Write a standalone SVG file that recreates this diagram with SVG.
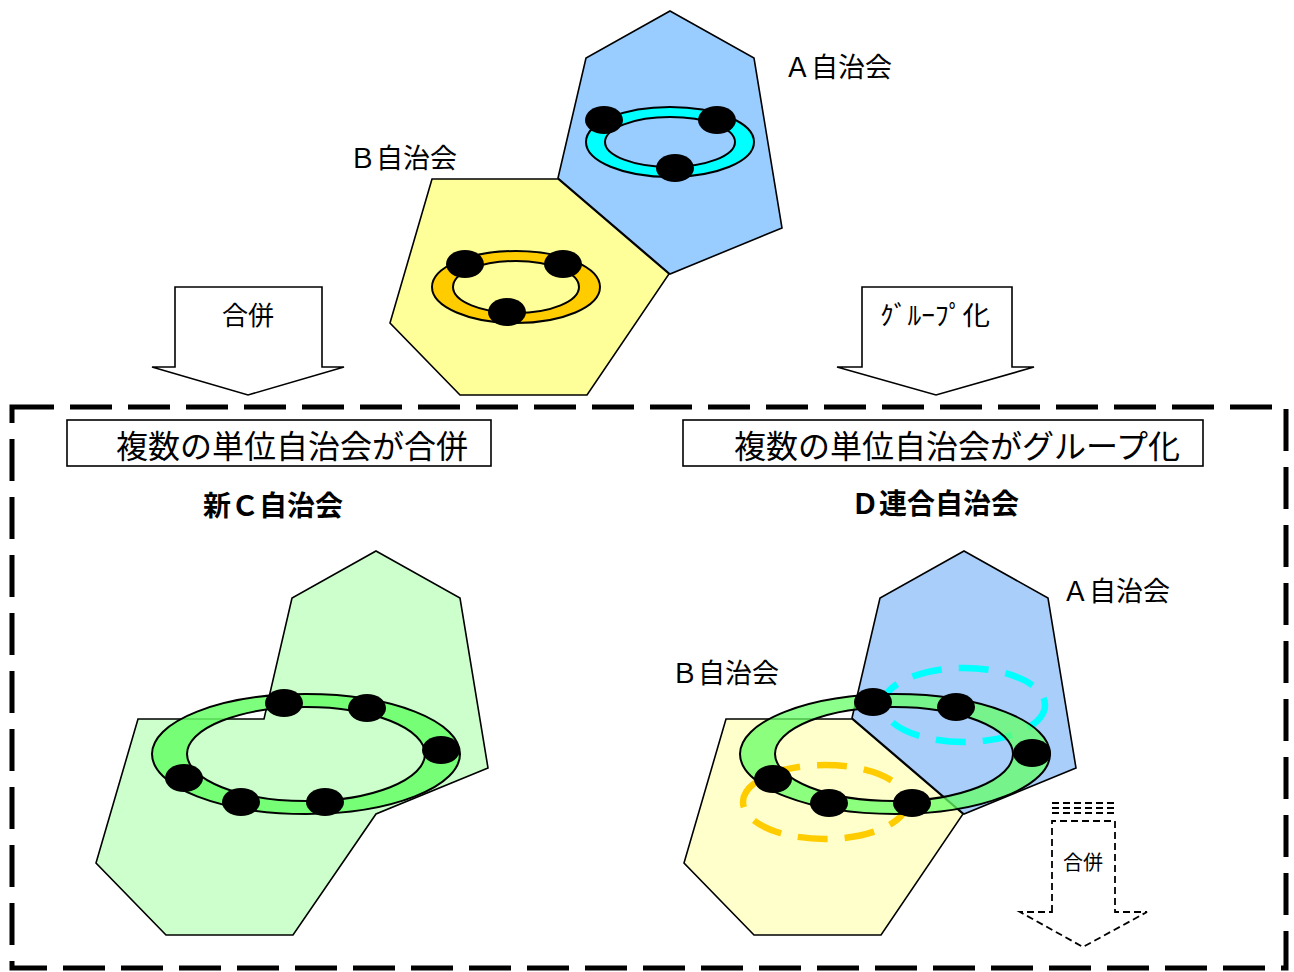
<svg xmlns="http://www.w3.org/2000/svg" width="1294" height="972" viewBox="0 0 1294 972">
<style>
  text { font-family: "Noto Sans CJK JP", "Liberation Sans", sans-serif; fill: #000; }
  .hex { stroke: #000; stroke-width: 1.6; stroke-linejoin: miter; }
  .ring { stroke: #000; stroke-width: 2; fill-rule: evenodd; }
  .dot { fill: #000; }
  .arrow { fill: #fff; stroke: #000; stroke-width: 1.6; }
  .lbl { font-size: 27px; dominant-baseline: central; }
  .dash { fill: none; stroke: #000; stroke-width: 1.8; stroke-dasharray: 7 4; }
</style>
<rect width="1294" height="972" fill="#fff"/>

<g id="top-A">
  <polygon class="hex" fill="#99CCFF" points="670,11 754,58 782,228 670,274 558,178 586,58"/>
  <path class="ring" fill="#00FFFF" d="M586,142 a84,35 0 1,0 168,0 a84,35 0 1,0 -168,0 Z M605,142 a65,25 0 1,0 130,0 a65,25 0 1,0 -130,0 Z"/>
  <ellipse class="dot" cx="604" cy="120" rx="19" ry="14"/>
  <ellipse class="dot" cx="717" cy="120" rx="19" ry="14"/>
  <ellipse class="dot" cx="675" cy="168" rx="19" ry="14"/>
  <text class="lbl" x="784" y="65">Ａ自治会</text>
</g>

<g id="top-B">
  <polygon class="hex" fill="#FFFF99" points="432,179 558,179 669,274 587,395 460,395 390,323"/>
  <path class="ring" fill="#FFCC00" d="M432,287 a84,36 0 1,0 168,0 a84,36 0 1,0 -168,0 Z M453,287 a63,26 0 1,0 126,0 a63,26 0 1,0 -126,0 Z"/>
  <ellipse class="dot" cx="465" cy="264" rx="19" ry="14"/>
  <ellipse class="dot" cx="563" cy="264" rx="19" ry="14"/>
  <ellipse class="dot" cx="507" cy="312" rx="19" ry="14"/>
  <text class="lbl" x="349" y="156">Ｂ自治会</text>
</g>

<g id="arrow-merge">
  <path class="arrow" d="M175,287 L322,287 L322,367 L344,367 L248,395 L152,367 L175,367 Z"/>
  <text x="248" y="313" font-size="26" text-anchor="middle" dominant-baseline="central">合併</text>
</g>

<g id="arrow-group">
  <path class="arrow" d="M862,287 L1012,287 L1012,367 L1034,367 L936,395 L837,367 L862,367 Z"/>
  <text x="880" y="313" font-size="26" dominant-baseline="central" textLength="110" lengthAdjust="spacingAndGlyphs">ｸﾞﾙｰﾌﾟ化</text>
</g>

<g id="frame">
  <rect x="12" y="407" width="1274" height="561" fill="none" stroke="#000" stroke-width="5" stroke-dasharray="42 16"/>
</g>

<g id="title-merge">
  <rect x="67" y="420" width="424" height="46" fill="#fff" stroke="#000" stroke-width="1.6"/>
  <text x="292" y="444" font-size="32" text-anchor="middle" dominant-baseline="central">複数の単位自治会が合併</text>
  <text x="273" y="504" font-size="28" font-weight="bold" text-anchor="middle" dominant-baseline="central">新Ｃ自治会</text>
</g>

<g id="title-group">
  <rect x="683" y="420" width="520" height="46" fill="#fff" stroke="#000" stroke-width="1.6"/>
  <text x="957" y="444" font-size="32" text-anchor="middle" dominant-baseline="central">複数の単位自治会がグループ化</text>
  <text x="935" y="502" font-size="28" font-weight="bold" text-anchor="middle" dominant-baseline="central">Ｄ連合自治会</text>
</g>

<g id="new-C">
  <polygon class="hex" fill="#CCFFCC" points="376,551 460,598 488,768 376,814 293,935 166,935 96,863 138,719 264,719 292,598"/>
  <path class="ring" fill="#66FF66" fill-opacity="0.85" d="M152,754 a154,60 0 1,0 308,0 a154,60 0 1,0 -308,0 Z M187,754 a119,47 0 1,0 238,0 a119,47 0 1,0 -238,0 Z"/>
  <ellipse class="dot" cx="284" cy="703" rx="19" ry="14"/>
  <ellipse class="dot" cx="367" cy="708" rx="19" ry="14"/>
  <ellipse class="dot" cx="441" cy="750" rx="19" ry="14"/>
  <ellipse class="dot" cx="184" cy="778" rx="19" ry="14"/>
  <ellipse class="dot" cx="241" cy="802" rx="19" ry="14"/>
  <ellipse class="dot" cx="325" cy="802" rx="19" ry="14"/>
</g>

<g id="D-B">
  <polygon class="hex" fill="#FFFFCC" points="726,719 852,719 963,814 881,935 754,935 684,863"/>
  <ellipse cx="825" cy="802" rx="82" ry="37" fill="none" stroke="#FFCC00" stroke-width="6.5" stroke-dasharray="30 17"/>
  <text class="lbl" x="671" y="671">Ｂ自治会</text>
</g>

<g id="D-A">
  <polygon class="hex" fill="#A8CEF9" points="964,551 1048,598 1076,768 964,814 852,718 880,598"/>
  <ellipse cx="964" cy="705" rx="81" ry="37" fill="none" stroke="#00FFFF" stroke-width="6.5" stroke-dasharray="30 17"/>
  <text class="lbl" x="1062" y="589">Ａ自治会</text>
</g>

<g id="D-ring">
  <path class="ring" fill="#66FF66" fill-opacity="0.75" d="M740,754 a155,60 0 1,0 310,0 a155,60 0 1,0 -310,0 Z M775,754 a119,47 0 1,0 238,0 a119,47 0 1,0 -238,0 Z"/>
  <ellipse class="dot" cx="873" cy="702" rx="19" ry="14"/>
  <ellipse class="dot" cx="956" cy="707" rx="19" ry="14"/>
  <ellipse class="dot" cx="1032" cy="753" rx="19" ry="14"/>
  <ellipse class="dot" cx="773" cy="779" rx="19" ry="14"/>
  <ellipse class="dot" cx="829" cy="803" rx="19" ry="14"/>
  <ellipse class="dot" cx="912" cy="803" rx="19" ry="14"/>
</g>

<g id="arrow-future-merge">
  <line class="dash" x1="1052" y1="803" x2="1115" y2="803"/>
  <line class="dash" x1="1052" y1="808" x2="1115" y2="808"/>
  <line class="dash" x1="1052" y1="813" x2="1115" y2="813"/>
  <path class="dash" d="M1052,912 L1052,821 L1115,821 L1115,912 L1147,912 L1083,947 L1020,912 Z"/>
  <text x="1083" y="861" font-size="20" text-anchor="middle" dominant-baseline="central">合併</text>
</g>
</svg>
